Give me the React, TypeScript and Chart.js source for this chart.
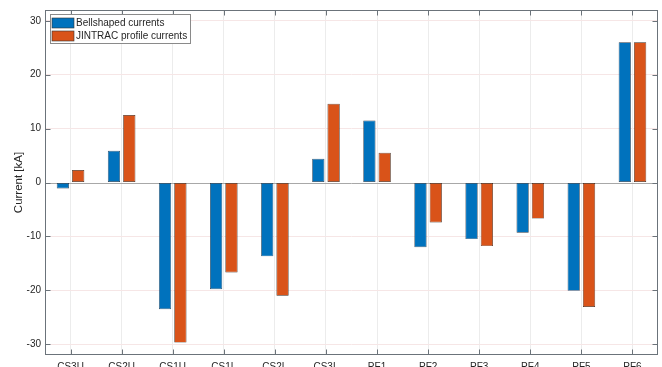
import React, { useEffect, useRef } from "react";
import { Chart, registerables } from "chart.js";

Chart.register(...registerables);

const categories = ["CS3U", "CS2U", "CS1U", "CS1L", "CS2L", "CS3L", "PF1", "PF2", "PF3", "PF4", "PF5", "PF6"];
const bellshaped = [-1.1, 5.9, -23.5, -19.8, -13.7, 4.4, 11.5, -12.0, -10.5, -9.3, -20.1, 26.0];
const jintrac = [2.3, 12.5, -29.7, -16.7, -21.0, 14.6, 5.5, -7.4, -11.8, -6.7, -23.1, 26.0];
const yTicks = [-30, -20, -10, 0, 10, 20, 30];
const seriesLabels = ["Bellshaped currents", "JINTRAC profile currents"];
const seriesColors = ["#0072BD", "#D95319"];

const FONT = "'Liberation Sans', Arial, sans-serif";

const boxPlugin = {
  id: "matlabBox",
  beforeDraw(chart: any) {
    const { ctx, width, height } = chart;
    ctx.save();
    ctx.fillStyle = "#ffffff";
    ctx.fillRect(0, 0, width, height);
    ctx.restore();
  },
  beforeDatasetsDraw(chart: any) {
    const { ctx, chartArea: a, scales } = chart;
    const y0 = Math.round(scales.y.getPixelForValue(0)) + 0.5;
    ctx.save();
    ctx.strokeStyle = "#a8a8a8";
    ctx.lineWidth = 1;
    ctx.beginPath();
    ctx.moveTo(a.left, y0);
    ctx.lineTo(a.right, y0);
    ctx.stroke();
    ctx.restore();
  },
  afterDraw(chart: any) {
    const { ctx, chartArea: a, scales } = chart;
    ctx.save();
    ctx.strokeStyle = "#6b737a";
    ctx.lineWidth = 1;
    const L = Math.round(a.left) + 0.5;
    const R = Math.round(a.right) - 0.5;
    const T = Math.round(a.top) + 0.5;
    const B = Math.round(a.bottom) - 0.5;
    ctx.strokeRect(L, T, R - L, B - T);
    const tl = 5;
    ctx.beginPath();
    scales.x.ticks.forEach((_: any, i: number) => {
      const x = Math.round(scales.x.getPixelForTick(i)) + 0.5;
      ctx.moveTo(x, B);
      ctx.lineTo(x, B - tl);
      ctx.moveTo(x, T);
      ctx.lineTo(x, T + tl);
    });
    yTicks.forEach((v) => {
      const y = Math.round(scales.y.getPixelForValue(v)) + 0.5;
      ctx.moveTo(L, y);
      ctx.lineTo(L + tl, y);
      ctx.moveTo(R, y);
      ctx.lineTo(R - tl, y);
    });
    ctx.stroke();

    // legend
    const lx = 50.5, ly = 14.5, lw = 140, lh = 29;
    ctx.fillStyle = "#ffffff";
    ctx.fillRect(lx, ly, lw, lh);
    ctx.strokeStyle = "#8a8a8a";
    ctx.strokeRect(lx, ly, lw, lh);
    ctx.font = `10px ${FONT}`;
    ctx.textBaseline = "middle";
    ctx.textAlign = "left";
    chart.data.datasets.forEach((ds: any, i: number) => {
      const py = 18 + i * 13;
      ctx.fillStyle = ds.backgroundColor;
      ctx.fillRect(52, py, 22, 10);
      ctx.strokeStyle = "#333333";
      ctx.lineWidth = 0.6;
      ctx.strokeRect(52, py, 22, 10);
      ctx.fillStyle = "#262626";
      ctx.fillText(ds.label, 76, py + 5.5);
    });
    ctx.restore();
  },
};

export default function App() {
  const ref = useRef<HTMLCanvasElement>(null);
  useEffect(() => {
    if (!ref.current) return;
    const chart = new Chart(ref.current, {
      type: "bar",
      data: {
        labels: categories,
        datasets: [
          {
            label: seriesLabels[0],
            data: bellshaped,
            backgroundColor: seriesColors[0],
            borderColor: "#2a3a4a",
            borderWidth: 0.7,
            borderSkipped: false,
            categoryPercentage: 0.6,
            barPercentage: 0.8,
          },
          {
            label: seriesLabels[1],
            data: jintrac,
            backgroundColor: seriesColors[1],
            borderColor: "#3a2a20",
            borderWidth: 0.7,
            borderSkipped: false,
            categoryPercentage: 0.6,
            barPercentage: 0.8,
          },
        ],
      },
      options: {
        animation: false,
        responsive: false,
        maintainAspectRatio: false,
        layout: { padding: { left: 0, right: 4, top: 10, bottom: 0 } },
        plugins: { legend: { display: false }, tooltip: { enabled: false } },
        scales: {
          x: {
            type: "category",
            offset: true,
            border: { display: false },
            grid: { offset: false, drawTicks: false, color: "#ececec", lineWidth: 1 },
            ticks: { color: "#262626", padding: 6, font: { family: FONT, size: 10 }, maxRotation: 0, autoSkip: false },
            afterFit: (s: any) => { s.height = 12; },
          },
          y: {
            min: -32,
            max: 32,
            border: { display: false },
            grid: { drawTicks: false, color: (c: any) => (c.tick && c.tick.value === 0 ? "rgba(0,0,0,0)" : "#f6e6e6"), lineWidth: 1 },
            ticks: {
              color: "#262626",
              padding: 4,
              font: { family: FONT, size: 10 },
              stepSize: 10,
              callback: (v: any) => (yTicks.includes(Number(v)) ? String(v) : ""),
            },
            afterBuildTicks: (s: any) => { s.ticks = yTicks.map((v) => ({ value: v })); },
            title: { display: true, text: "Current [kA]", color: "#262626", font: { family: FONT, size: 11.5 }, padding: { top: 12, bottom: 0 } },
            afterFit: (s: any) => { s.width = 45; },
          },
        },
      },
      plugins: [boxPlugin],
    } as any);
    return () => chart.destroy();
  }, []);
  return (
    <div style={{ position: "absolute", left: 0, top: 0, width: 662, height: 367 }}>
      <canvas ref={ref} width={662} height={367} style={{ width: 662, height: 367 }} />
    </div>
  );
}
